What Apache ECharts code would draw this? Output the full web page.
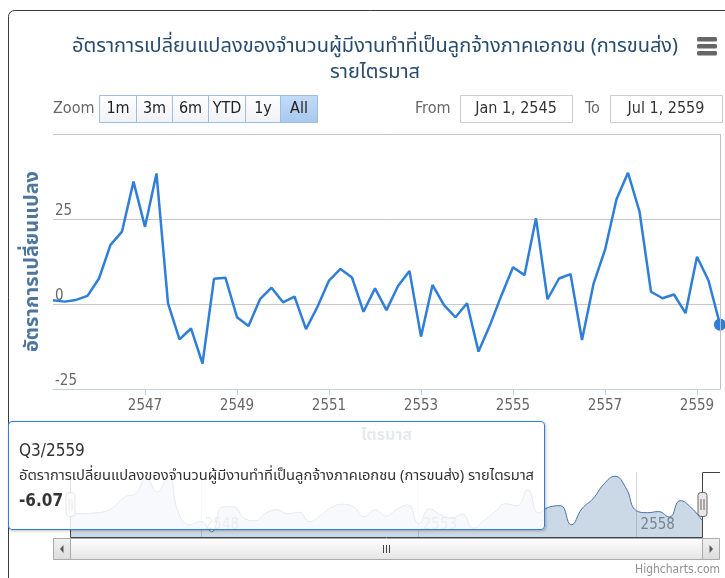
<!DOCTYPE html>
<html>
<head>
<meta charset="utf-8">
<script src="https://cdn.jsdelivr.net/npm/echarts@6/dist/echarts.min.js"></script>
<style>
html,body{margin:0;padding:0;background:#fff;}
#mainChart{width:725px;height:578px;}
</style>
</head>
<body>
<div id="mainChart"></div>
<script>
// ข้อความ
var chartTitle = 'อัตราการเปลี่ยนแปลงของจำนวนผู้มีงานทำที่เป็นลูกจ้างภาคเอกชน (การขนส่ง)\nรายไตรมาส';
var seriesName = 'อัตราการเปลี่ยนแปลงของจำนวนผู้มีงานทำที่เป็นลูกจ้างภาคเอกชน (การขนส่ง) รายไตรมาส';
var yTitle = 'อัตราการเปลี่ยนแปลง';
var xTitle = 'ไตรมาส';

// ข้อมูลรายไตรมาส Q1/2545 - Q3/2559
var years = [2545,2546,2547,2548,2549,2550,2551,2552,2553,2554,2555,2556,2557,2558,2559];
var quarterNames = ['Q1','Q2','Q3','Q4'];
var changeRate = [
	1.1, 0.7, 1.2, 2.4,
	7.5, 17.4, 21.3, 36.0,
	22.7, 38.4, 0.2, -10.4,
	-7.2, -17.5, 7.4, 7.7,
	-3.9, -6.5, 1.4, 4.8,
	0.5, 2.2, -7.4, -0.8,
	6.9, 10.3, 7.8, -2.3,
	4.6, -1.8, 5.3, 9.7,
	-9.6, 5.6, -0.3, -3.9,
	0.2, -14.0, -6.2, 2.6,
	10.8, 8.5, 25.2, 1.4,
	7.5, 8.8, -10.6, 5.9,
	15.9, 30.8, 38.6, 27.2,
	3.6, 1.7, 2.8, -2.7,
	13.9, 6.9, -6.07
];
var yTicks = [-25, 0, 25, 50];

// ปุ่มช่วงเวลา
var rangeButtons = ['1m','3m','6m','YTD','1y','All'];
var rangeEdges = [99,136,172,208,245,280,317];
var fromDate = 'Jan 1, 2545';
var toDate = 'Jul 1, 2559';

var quarters = [];
years.forEach(function(y){
	quarterNames.forEach(function(q){ quarters.push(q + '/' + y); });
});
quarters = quarters.slice(0, changeRate.length);
var lastIdx = changeRate.length - 1;

var latinFont = '"Liberation Sans Narrow","DejaVu Sans Condensed","Noto Sans",sans-serif';
var thaiFont = '"Noto Sans Thai","Noto Sans","DejaVu Sans Condensed",sans-serif';

function yearOf(v){ return v.split('/')[1]; }

var myChart = echarts.init(document.getElementById('mainChart'));

var graphics = [];
// กรอบ
graphics.push({type:'rect', shape:{x:8.5,y:10.5,width:740,height:620,r:6}, style:{fill:'none',stroke:'#3a3a3a',lineWidth:1}, z:0, silent:true});
// เมนู
[37,44,51].forEach(function(yy){
	graphics.push({type:'rect', shape:{x:697,y:yy,width:20,height:4.5,r:1.5}, style:{fill:'#666'}, z:10});
});
// Zoom
graphics.push({type:'text', x:53, y:108.5, style:{text:'Zoom', font:'16px '+latinFont, fill:'#666', verticalAlign:'middle'}});
rangeButtons.forEach(function(b, i){
	var x0 = rangeEdges[i], w = rangeEdges[i+1] - rangeEdges[i];
	var sel = (b === 'All');
	graphics.push({type:'rect', shape:{x:x0+0.5,y:95.5,width:w,height:27},
		style:{fill: sel ? new echarts.graphic.LinearGradient(0,0,0,1,[{offset:0,color:'#c3dbf7'},{offset:1,color:'#a8c8ef'}])
			: new echarts.graphic.LinearGradient(0,0,0,1,[{offset:0,color:'#ffffff'},{offset:1,color:'#eef2f7'}]),
			stroke:'#9fbde0', lineWidth:1}, z:10});
	graphics.push({type:'text', x:x0 + w/2 + 0.5, y:109, style:{text:b, font:'16px '+latinFont, fill:'#222', align:'center', verticalAlign:'middle'}, z:11});
});
// From / To
graphics.push({type:'text', x:415, y:108.5, style:{text:'From', font:'16px '+latinFont, fill:'#666', verticalAlign:'middle'}});
graphics.push({type:'rect', shape:{x:460.5,y:95.5,width:112,height:27}, style:{fill:'#fff',stroke:'#ccc',lineWidth:1}});
graphics.push({type:'text', x:516, y:109, style:{text:fromDate, font:'16px '+latinFont, fill:'#333', align:'center', verticalAlign:'middle'}});
graphics.push({type:'text', x:585, y:108.5, style:{text:'To', font:'16px '+latinFont, fill:'#666', verticalAlign:'middle'}});
graphics.push({type:'rect', shape:{x:610.5,y:95.5,width:112,height:27}, style:{fill:'#fff',stroke:'#ccc',lineWidth:1}});
graphics.push({type:'text', x:666, y:109, style:{text:toDate, font:'16px '+latinFont, fill:'#333', align:'center', verticalAlign:'middle'}});
// ชื่อแกน x
graphics.push({type:'text', x:386.5, y:437, style:{text:xTitle, font:'bold 16px '+thaiFont, fill:'#4d759e', align:'center', verticalAlign:'middle'}});

// navigator outline + handles
graphics.push({type:'polyline', shape:{points:[[53,472.5],[70.5,472.5],[70.5,537.5],[702.5,537.5],[702.5,472.5],[720,472.5]]}, style:{stroke:'#444',lineWidth:1,fill:null}, z:20});
[70.5, 702.5].forEach(function(hx){
	graphics.push({type:'rect', shape:{x:hx-4.5,y:492.5,width:9,height:24,r:3}, style:{fill:'#ebe7e8',stroke:'#666',lineWidth:1}, z:21});
	graphics.push({type:'line', shape:{x1:hx-1.5,y1:499,x2:hx-1.5,y2:510}, style:{stroke:'#666',lineWidth:1}, z:22});
	graphics.push({type:'line', shape:{x1:hx+1.5,y1:499,x2:hx+1.5,y2:510}, style:{stroke:'#666',lineWidth:1}, z:22});
});
// scrollbar
graphics.push({type:'rect', shape:{x:53.5,y:538.5,width:666,height:21}, style:{fill:'#eee',stroke:'#ddd'}, z:20});
graphics.push({type:'rect', shape:{x:70.5,y:538.5,width:632,height:21},
	style:{fill:new echarts.graphic.LinearGradient(0,0,0,1,[{offset:0,color:'#ffffff'},{offset:1,color:'#e4e4e4'}]), stroke:'#aaa'}, z:21});
[53.5, 702.5].forEach(function(bx, i){
	graphics.push({type:'rect', shape:{x:bx,y:538.5,width:17,height:21},
		style:{fill:new echarts.graphic.LinearGradient(0,0,0,1,[{offset:0,color:'#f2f2f2'},{offset:1,color:'#dcdcdc'}]), stroke:'#aaa'}, z:21});
	var cx = bx + 8.5;
	graphics.push({type:'polygon', shape:{points: i === 0 ? [[cx+1.5,545],[cx+1.5,553],[cx-2,549]] : [[cx-1.5,545],[cx-1.5,553],[cx+2,549]]}, style:{fill:'#555'}, z:22});
});
[383.5, 386.5, 389.5].forEach(function(gx){
	graphics.push({type:'line', shape:{x1:gx,y1:545,x2:gx,y2:553}, style:{stroke:'#444',lineWidth:1}, z:22});
});
// credits
graphics.push({type:'text', x:720, y:570, style:{text:'Highcharts.com', font:'12px '+latinFont, fill:'#909090', align:'right', verticalAlign:'middle'}});

var option = {
	animation: false,
	title: {
		text: chartTitle,
		left: 370,
		textAlign: 'center',
		top: 30,
		textStyle: {fontSize: 20, fontWeight: 'normal', color: '#274b6d', lineHeight: 26, fontFamily: thaiFont}
	},
	tooltip: {
		trigger: 'axis',
		triggerOn: 'none',
		alwaysShowContent: true,
		position: [8, 421],
		backgroundColor: 'rgba(255,255,255,0.85)',
		borderColor: '#2f7ed8',
		borderWidth: 1.5,
		padding: [16, 10, 8, 10],
		extraCssText: 'width:537px;height:109px;box-sizing:border-box;border-radius:4px;box-shadow:1px 1px 3px rgba(0,0,0,0.25);',
		axisPointer: {type: 'line', lineStyle: {color: '#c0c0c0', width: 1, type: 'solid'}, label: {show: false}},
		formatter: function(params){
			var p = params[0];
			return '<div style="font-family:' + latinFont.replace(/"/g, "'") + ';line-height:25px;color:#333">' +
				'<div style="font-size:17px">' + p.axisValue + '</div>' +
				'<div style="font-size:14.7px;font-family:' + thaiFont.replace(/"/g, "'") + ';white-space:nowrap">' + p.seriesName + '</div>' +
				'<div style="font-size:17px;font-weight:bold">' + p.value + '</div></div>';
		}
	},
	graphic: graphics,
	grid: [
		{left: 53, right: 5, top: 134, bottom: 189},
		{left: 70, right: 23, top: 472, bottom: 41}
	],
	xAxis: [{
		type: 'category',
		gridIndex: 0,
		data: quarters,
		boundaryGap: false,
		axisLine: {onZero: false, lineStyle: {color: '#c0d0e0', width: 1}},
		axisTick: {length: 6, lineStyle: {color: '#c0d0e0'}, interval: function(i){ return i > 0 && i % 8 === 0; }},
		axisLabel: {color: '#666', fontSize: 15, fontFamily: latinFont, margin: 10,
			interval: function(i){ return i > 0 && i % 8 === 0; }, formatter: yearOf},
		splitLine: {show: false}
	}, {
		type: 'category',
		gridIndex: 1,
		data: quarters,
		boundaryGap: false,
		axisLine: {show: false},
		axisTick: {show: false},
		axisPointer: {show: false},
		axisLabel: {inside: true, color: '#888', fontSize: 15, fontFamily: latinFont, margin: 4, align: 'left', padding: [0, 0, 0, 4],
			interval: function(i){ return i % 20 === 12; }, formatter: yearOf},
		splitLine: {show: true, interval: function(i){ return i % 20 === 12; }, lineStyle: {color: '#d4d4d4'}}
	}],
	yAxis: [{
		type: 'value',
		gridIndex: 0,
		min: yTicks[0],
		max: yTicks[yTicks.length - 1],
		interval: 25,
		name: yTitle,
		nameLocation: 'middle',
		nameGap: 9,
		nameTextStyle: {color: '#4d759e', fontWeight: 'bold', fontSize: 20, fontFamily: thaiFont},
		axisLine: {show: false},
		axisTick: {show: false},
		axisLabel: {inside: true, color: '#666', fontSize: 15, fontFamily: latinFont, verticalAlign: 'bottom', margin: 2, showMaxLabel: false},
		splitLine: {lineStyle: {color: '#c8c8c8', width: 1}}
	}, {
		type: 'value',
		gridIndex: 1,
		min: -23,
		max: 43,
		show: false,
		splitLine: {show: false}
	}],
	series: [{
		name: seriesName,
		type: 'line',
		xAxisIndex: 0,
		yAxisIndex: 0,
		data: changeRate,
		showSymbol: true,
		symbol: 'circle',
		symbolSize: function(v, p){ return p.dataIndex === lastIdx ? 11 : 0; },
		itemStyle: {color: '#2f7ed8'},
		lineStyle: {color: '#2f7ed8', width: 2.5},
		emphasis: {disabled: true},
		z: 5
	}, {
		name: 'navigator',
		type: 'line',
		xAxisIndex: 1,
		yAxisIndex: 1,
		data: changeRate,
		smooth: true,
		showSymbol: false,
		lineStyle: {color: '#4572a7', width: 1},
		areaStyle: {color: 'rgba(69,114,167,0.4)', origin: 'start'},
		tooltip: {show: false},
		emphasis: {disabled: true},
		silent: true
	}]
};

myChart.setOption(option);
myChart.dispatchAction({type: 'showTip', seriesIndex: 0, dataIndex: lastIdx});

window.onresize = myChart.resize;
</script>
</body>
</html>
